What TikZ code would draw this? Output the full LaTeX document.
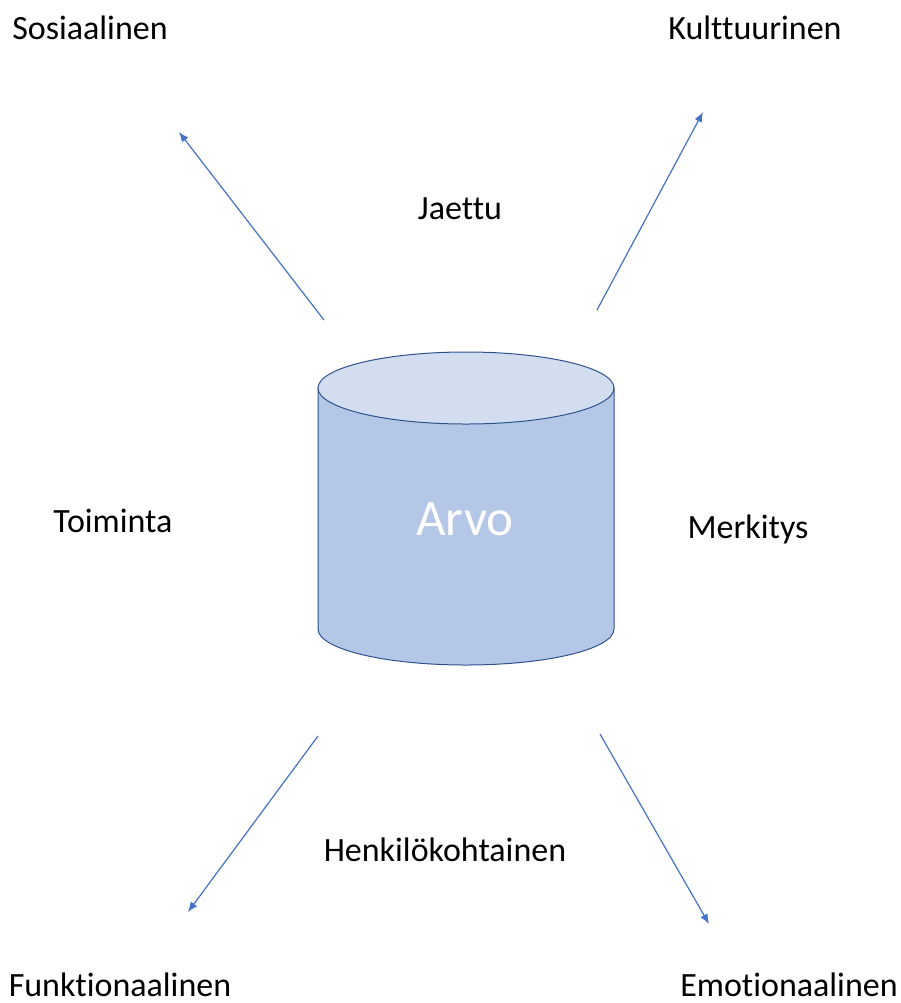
\documentclass[tikz,border=0pt]{standalone}
\usepackage{fontspec}
\setmainfont[Ligatures=NoCommon]{Carlito}
\usepackage{tikz}
\usetikzlibrary{positioning}
\usetikzlibrary{arrows.meta}

\definecolor{arrowblue}{HTML}{4472C4}
\definecolor{cylside}{HTML}{B4C7E7}
\definecolor{cyltop}{HTML}{D2DEEF}
\definecolor{cylline}{HTML}{2F528F}

\begin{document}
\begin{tikzpicture}[x=0.5pt, y=-0.5pt,
    label/.style = {font=\fontsize{17}{20}\selectfont, anchor=base, inner sep=0pt},
    link/.style = {draw=arrowblue, line width=0.6pt, -{Latex[length=5pt,width=4pt]}}]
            \useasboundingbox (0,0) rectangle (901,1003);
            % the cylinder
            \fill[cylside, draw=cylline, line width=0.5pt] (318,388) -- (318,629)
                arc[start angle=180, end angle=0, x radius=148, y radius=36]
                -- (614,388) -- cycle;
            \filldraw[fill=cyltop, draw=cylline, line width=0.5pt] (466,388) ellipse [x radius=148, y radius=36];
            \node[label, text=white, font=\fontsize{25.5}{30}\selectfont](arvo) at (465,535){Arvo};
            % labels
            \node[label](sos) at (90,39){Sosiaalinen};
            \node[label](kult) at (755,39){Kulttuurinen};
            \node[label](jaettu) at (460,219){Jaettu};
            \node[label](toim) at (113,532){Toiminta};
            \node[label](merk) at (748,538){Merkitys};
            \node[label](henk) at (445,861){Henkilökohtainen};
            \node[label](funk) at (120,996){Funktionaalinen};
            \node[label](emo) at (789,996){Emotionaalinen};
            % arrows
            \coordinate (a1) at (324,320);
            \coordinate (b1) at (179,132);
            \coordinate (a2) at (597,310);
            \coordinate (b2) at (703,112);
            \coordinate (a3) at (318,736);
            \coordinate (b3) at (188,912);
            \coordinate (a4) at (600,734);
            \coordinate (b4) at (709,924);
            \draw[link] (a1) -- (b1);
            \draw[link] (a2) -- (b2);
            \draw[link] (a3) -- (b3);
            \draw[link] (a4) -- (b4);
        \end{tikzpicture}
\end{document}
